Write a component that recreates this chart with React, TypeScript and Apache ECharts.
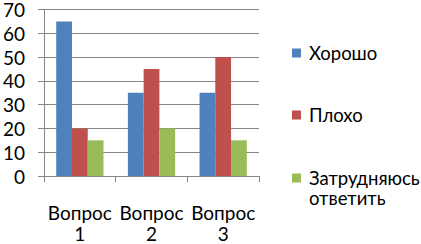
import React, { useEffect, useRef } from "react";
import * as echarts from "echarts";

const categories = ["Вопрос 1", "Вопрос 2", "Вопрос 3"];
const seriesNames = ["Хорошо", "Плохо", "Затрудняюсь ответить"];
const good = [65, 35, 35];
const bad = [20, 45, 50];
const unsure = [15, 20, 15];
const colors = ["#4F81BD", "#C0504D", "#9BBB59"];
const yTicks = [0, 10, 20, 30, 40, 50, 60, 70];

const FONT = "Lato";

export default function App() {
  const ref = useRef<HTMLDivElement>(null);
  useEffect(() => {
    document.body.style.margin = "0";
    const chart = echarts.init(ref.current!, null, { renderer: "svg" });
    const values = [good, bad, unsure];
    const legendBase = {
      orient: "vertical" as const,
      left: 292,
      padding: 0,
      itemWidth: 9,
      itemHeight: 9,
      icon: "rect",
      textStyle: {
        fontFamily: FONT,
        fontSize: 18.5,
        color: "#000",
        lineHeight: 20,
        padding: [0, 0, 0, 3],
      },
    };
    chart.setOption({
      animation: false,
      color: colors,
      textStyle: { fontFamily: FONT },
      grid: { left: 40, right: 162, top: 6, bottom: 68 },
      legend: [
        { ...legendBase, top: 43, data: [seriesNames[0]] },
        { ...legendBase, top: 105, data: [seriesNames[1]] },
        {
          ...legendBase,
          top: 148,
          data: [seriesNames[2]],
          formatter: (n: string) => "\n" + n.replace(" ", "\n"),
        },
      ],
      xAxis: {
        type: "category",
        data: categories,
        axisLine: { lineStyle: { color: "#868686", width: 1 } },
        axisTick: { show: true, length: 6, lineStyle: { color: "#868686" } },
        axisLabel: {
          interval: 0,
          margin: 26,
          fontFamily: FONT,
          fontSize: 19,
          lineHeight: 21,
          color: "#000",
          formatter: (v: string) => v.replace(" ", "\n"),
        },
      },
      yAxis: {
        type: "value",
        min: yTicks[0],
        max: yTicks[yTicks.length - 1],
        interval: 10,
        axisLine: { show: true, lineStyle: { color: "#868686", width: 1 } },
        axisTick: { show: true, length: 6, lineStyle: { color: "#868686" } },
        splitLine: { lineStyle: { color: "#868686", width: 1 } },
        axisLabel: {
          margin: 19,
          fontFamily: FONT,
          fontSize: 19,
          color: "#000",
        },
      },
      series: seriesNames.map((name, i) => ({
        name,
        type: "bar",
        data: values[i],
        barGap: "0%",
        barCategoryGap: "34%",
        itemStyle: { color: colors[i] },
      })),
    });
    return () => chart.dispose();
  }, []);
  return <div ref={ref} style={{ width: 421, height: 244 }} />;
}
